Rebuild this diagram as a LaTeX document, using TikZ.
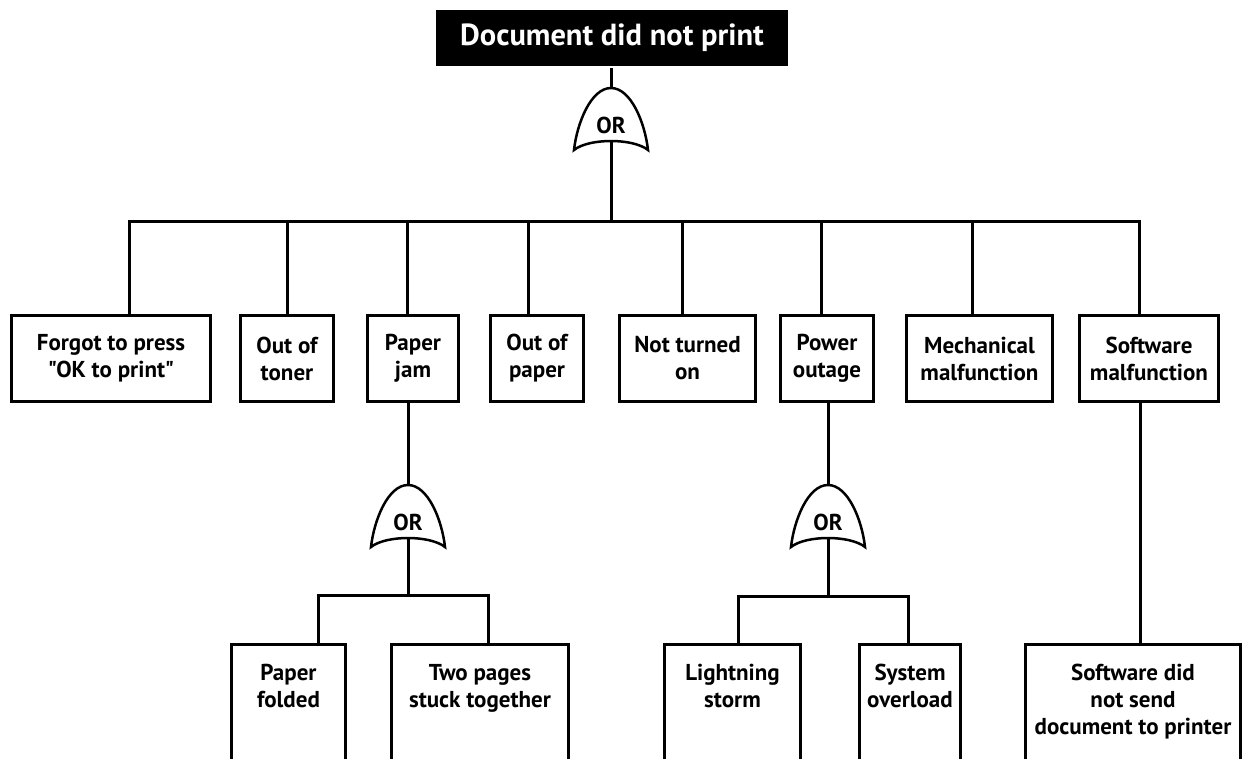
\documentclass[tikz,border=0pt]{standalone}
\usepackage{fontspec}
\newfontfamily\labelfont{PT Sans}
\usetikzlibrary{positioning}

\begin{document}
\begin{tikzpicture}[x=1pt, y=-1pt,
  line width=3pt,
  event/.style={draw, line width=3pt, inner sep=0pt, align=center,
    minimum height=86pt, font=\labelfont\fontsize{23}{27}\selectfont\bfseries},
  leaf/.style={draw, line width=3pt, inner sep=0pt, anchor=north,
    minimum height=150pt},
  lbl/.style={align=center, inner sep=0pt, font=\labelfont\fontsize{23}{27}\selectfont\bfseries},
  rootbox/.style={fill=black, text=white, inner sep=0pt, minimum width=352pt,
    minimum height=56pt, font=\labelfont\fontsize{30.5}{33}\selectfont\bfseries},
  orgate/.pic={
    \draw[line width=2.5pt, fill=white] (0,0) coordinate (-in)
      .. controls (-20,0) and (-34,35) .. (-37,62)
      .. controls (-22,50) and (22,50) .. (37,62)
      .. controls (34,35) and (20,0) .. cycle;
    \coordinate (-out) at (0,53);
    \node[lbl] (-txt) at (0,37) {OR};
  }
]
  \useasboundingbox (0,0) rectangle (1245,758);
  \clip (0,0) rectangle (1245,758);

  % --- top event ---
  \node[rootbox] (root) at (612,38) {Document did not print};
  \pic (g0) at (611,88) {orgate};
  \draw (root.south -| g0-in) -- (g0-in);

  % --- first level ---
  \node[event, minimum width=199pt] (forgot) at (111,358.5) {Forgot to press\\"OK to print"};
  \node[event, minimum width=93pt] (toner) at (287,358.5) {Out of\\toner};
  \node[event, minimum width=91pt] (jam) at (413,358.5) {Paper\\jam};
  \node[event, minimum width=93pt] (paper) at (537,358.5) {Out of\\paper};
  \node[event, minimum width=136pt] (noton) at (687.5,358.5) {Not turned\\on};
  \node[event, minimum width=93pt] (power) at (827,358.5) {Power\\outage};
  \node[event, minimum width=146pt] (mech) at (979.5,358.5) {Mechanical\\malfunction};
  \node[event, minimum width=139pt] (soft) at (1149,358.5) {Software\\malfunction};

  \coordinate (t1) at (129,221);
  \coordinate (t2) at (287,221);
  \coordinate (t3) at (407,221);
  \coordinate (t4) at (528,221);
  \coordinate (t5) at (682,221);
  \coordinate (t6) at (821,221);
  \coordinate (t7) at (972,221);
  \coordinate (t8) at (1139,221);
  \draw (g0-out) -- (g0-out |- t1);
  \draw (t1 |- forgot.north) -- (t1) -- (t8) -- (t8 |- soft.north);
  \draw (t2) -- (t2 |- toner.north);
  \draw (t3) -- (t3 |- jam.north);
  \draw (t4) -- (t4 |- paper.north);
  \draw (t5) -- (t5 |- noton.north);
  \draw (t6) -- (t6 |- power.north);
  \draw (t7) -- (t7 |- mech.north);

  % --- paper jam branch ---
  \pic (g1) at (408,485) {orgate};
  \draw (jam.south -| g1-in) -- (g1-in);
  \node[leaf, minimum width=114pt] (folded) at (288.5,643) {};
  \node[leaf, minimum width=177pt] (pages) at (480,643) {};
  \node[lbl, below=20pt of folded.north] (folded-t) {Paper\\folded};
  \node[lbl, below=20pt of pages.north] (pages-t) {Two pages\\stuck together};
  \coordinate (b1l) at (318,595);
  \coordinate (b1r) at (488,595);
  \draw (g1-out) -- (g1-out |- b1l);
  \draw (b1l |- folded.north) -- (b1l) -- (b1r) -- (b1r |- pages.north);

  % --- power outage branch ---
  \pic (g2) at (828,485) {orgate};
  \draw (power.south -| g2-in) -- (g2-in);
  \node[leaf, minimum width=136pt] (storm) at (732.5,643) {};
  \node[leaf, minimum width=101pt] (overload) at (910,643) {};
  \node[lbl, below=20pt of storm.north] (storm-t) {Lightning\\storm};
  \node[lbl, below=20pt of overload.north] (overload-t) {System\\overload};
  \coordinate (b2l) at (738,596);
  \coordinate (b2r) at (908,596);
  \draw (g2-out) -- (g2-out |- b2l);
  \draw (b2l |- storm.north) -- (b2l) -- (b2r) -- (b2r |- overload.north);

  % --- software branch ---
  \node[leaf, minimum width=215pt] (nosend) at (1133,643) {};
  \node[lbl, below=20pt of nosend.north] (nosend-t) {Software did\\not send\\document to printer};
  \coordinate (s1) at (1140,403);
  \draw (s1 |- soft.south) -- (s1 |- nosend.north);
\end{tikzpicture}
\end{document}
